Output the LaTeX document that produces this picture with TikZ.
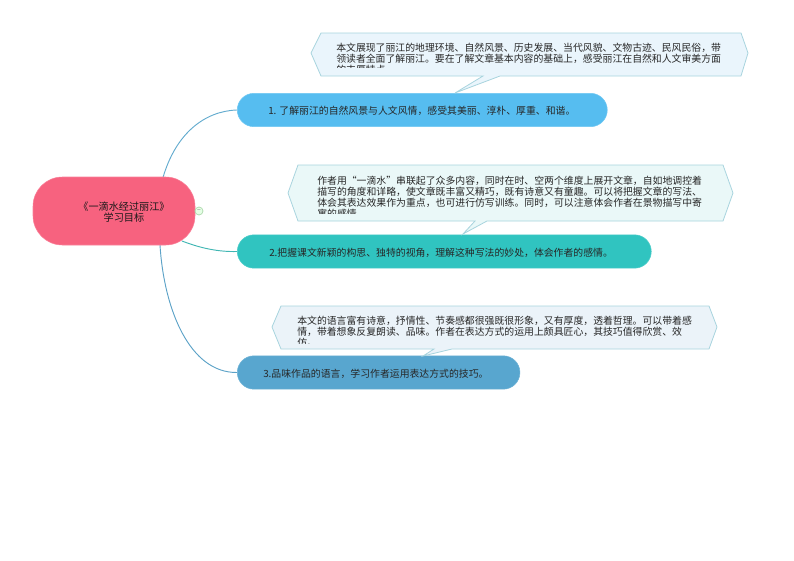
\documentclass[tikz,border=0pt]{standalone}
\usepackage{fontspec}
\setmainfont{Noto Sans CJK SC}
\usetikzlibrary{backgrounds}
\definecolor{rootc}{HTML}{F7627F}
\definecolor{bonec}{HTML}{56BDF0}
\definecolor{btwoc}{HTML}{30C4C0}
\definecolor{bthreec}{HTML}{58A6CF}
\definecolor{fillone}{HTML}{EAF5FC}
\definecolor{filltwo}{HTML}{EAF8F8}
\definecolor{fillthree}{HTML}{EBF3F9}
\definecolor{edgec}{HTML}{A8D4DE}
\tikzset{
 x=0.75pt,y=-0.75pt,
 branchbox/.style={rounded corners=12.5pt,minimum height=25pt,inner sep=0pt,anchor=west,draw=#1!85!white,fill=#1,line width=0.4pt},
 rootbox/.style={rounded corners=22pt,minimum width=121.5pt,minimum height=51pt,inner sep=0pt,fill=rootc,draw=rootc!80!white,line width=0.4pt},
 bubble/.style={fill=#1,draw=edgec,line width=0.6pt,line join=miter},
 note/.style={anchor=north west,inner sep=0pt,align=left,font=\fontsize{7.4}{8.3}\selectfont,text=black!85},
 btext/.style={anchor=west,inner sep=0pt,font=\fontsize{7.4}{9}\selectfont,text=black!85},
 rtext/.style={inner sep=0pt,align=center,font=\fontsize{7.6}{8.3}\selectfont,text=black!90},
 link/.style={line width=0.7pt,draw=#1},
}
\begin{document}
\begin{tikzpicture}
\useasboundingbox (0,0) rectangle (794,561);
\node[rootbox] (root) at (114,211) {};
\node[rtext] (roottext) at (124,212.5) {《一滴水经过丽江》\\学习目标};
\node[branchbox=bonec,minimum width=277.5pt] (b1) at (237,110) {};
\node[branchbox=btwoc,minimum width=310.5pt] (b2) at (237,251.5) {};
\node[branchbox=bthreec,minimum width=212pt] (b3) at (237,372.5) {};
\node[btext] (t1) at (268,111) {1. 了解丽江的自然风景与人文风情，感受其美丽、淳朴、厚重、和谐。};
\node[btext] (t2) at (269,252.5) {2.把握课文新颖的构思、独特的视角，理解这种写法的妙处，体会作者的感情。};
\node[btext] (t3) at (263,374) {3.品味作品的语言，学习作者运用表达方式的技巧。};
\coordinate (r1) at (163,177.5);
\coordinate (r2) at (182,241);
\coordinate (r3) at (160,245);
\begin{scope}[on background layer]
\draw[link=bonec!70!gray] (r1) .. controls (176,133) and (205,111) .. (b1.west);
\draw[link=btwoc!80!gray] (r2) .. controls (200,248) and (218,252) .. (b2.west);
\draw[link=bthreec!90!gray] (r3) .. controls (164,310) and (190,373) .. (b3.west);
\end{scope}
\node[circle,minimum size=6pt,inner sep=0pt,fill=green!10,draw=green!35!gray!50,line width=0.5pt,font=\fontsize{5}{5}\selectfont,text=gray] (fold) at (199,211) {−};
% callout 1
\coordinate (c1tip) at (455,93);
\draw[bubble=fillone] (311,53)--(321,33)--(741,33)--(748,53)--(741,76)--(500,76)--(c1tip)--(483,76)--(321,76)--cycle;
\begin{scope}
\clip (330,38) rectangle (730,67.5);
\node[note] (n1) at (336,43) {本文展现了丽江的地理环境、自然风景、历史发展、当代风貌、文物古迹、民风民俗，带\\领读者全面了解丽江。要在了解文章基本内容的基础上，感受丽江在自然和人文审美方面\\的丰厚特点。};
\end{scope}
% callout 2
\coordinate (c2tip) at (463,234);
\draw[bubble=filltwo] (288,193)--(298,165)--(723,165)--(733,193)--(723,221)--(487,221)--(c2tip)--(475,221)--(298,221)--cycle;
\begin{scope}
\clip (310,170) rectangle (715,213);
\node[note] (n2) at (317,175.5) {作者用“一滴水”串联起了众多内容，同时在时、空两个维度上展开文章，自如地调控着\\描写的角度和详略，使文章既丰富又精巧，既有诗意又有童趣。可以将把握文章的写法、\\体会其表达效果作为重点，也可进行仿写训练。同时，可以注意体会作者在景物描写中寄\\寓的感情。};
\end{scope}
% callout 3
\coordinate (c3tip) at (423,356);
\draw[bubble=fillthree] (272,327)--(281,306)--(709,306)--(717,327)--(709,349)--(452,349)--(c3tip)--(434,349)--(281,349)--cycle;
\begin{scope}
\clip (290,310) rectangle (700,343);
\node[note] (n3) at (297,316) {本文的语言富有诗意，抒情性、节奏感都很强既很形象，又有厚度，透着哲理。可以带着感\\情，带着想象反复朗读、品味。作者在表达方式的运用上颇具匠心，其技巧值得欣赏、效\\仿。};
\end{scope}
\end{tikzpicture}
\end{document}
